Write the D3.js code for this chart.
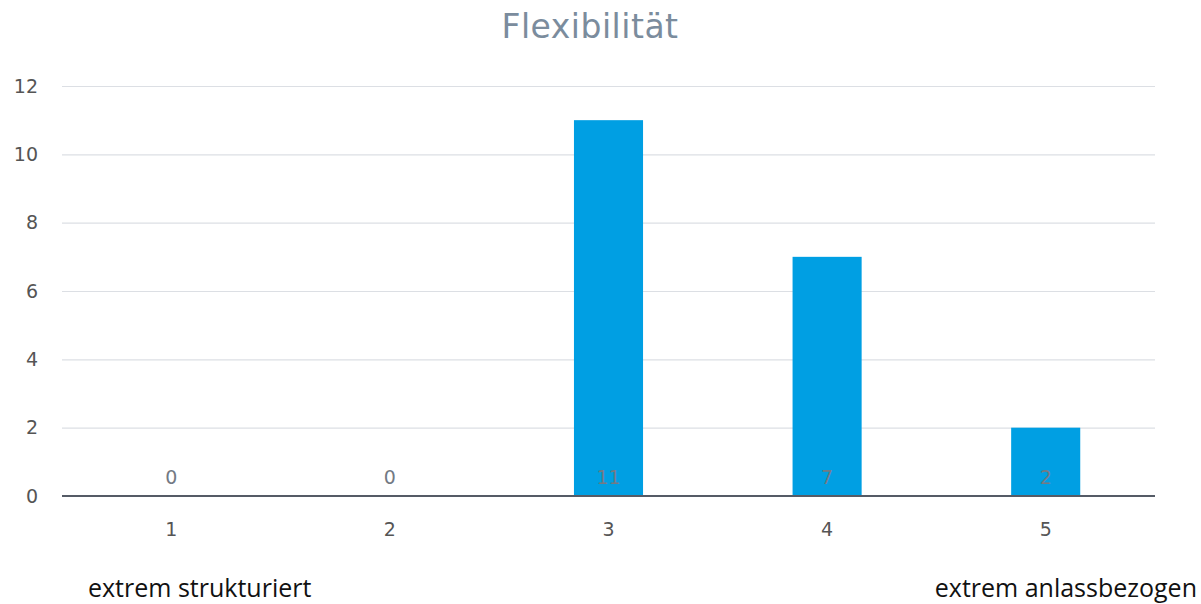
<!DOCTYPE html>
<html>
<head>
<meta charset="utf-8">
<script src="https://cdn.jsdelivr.net/npm/d3@7"></script>
<style>
  body { margin: 0; background: #fff; }
  svg { display: block; }
  .v { font-family: 'DejaVu Sans', Verdana, sans-serif; }
  .note { font-family: 'Open Sans', sans-serif; }
</style>
</head>
<body>
<svg width="1201" height="604"></svg>
<script>
let categories = ["1", "2", "3", "4", "5"];
let values = [0, 0, 11, 7, 2];
let yTicks = [0, 2, 4, 6, 8, 10, 12];
let title = "Flexibilität";
let leftNote = "extrem strukturiert";
let rightNote = "extrem anlassbezogen";

let plotLeft = 62, plotRight = 1155, plotTop = 86, plotBottom = 496;

let svg = d3.select('svg');

let x = d3.scaleBand().domain(categories).range([plotLeft, plotRight]).paddingInner(0.684).paddingOuter(0.342);
let y = d3.scaleLinear().domain([0, 12]).range([plotBottom, plotTop]);

// title
svg.append('text').attr('class', 'v').attr('x', 590).attr('y', 38).attr('text-anchor', 'middle')
  .attr('font-size', 33).attr('letter-spacing', 0.5)
  .attr('fill', '#7b8c9d').text(title);

// grid
let yAxis = svg.append('g').attr('transform', `translate(${plotLeft},0)`)
  .call(d3.axisLeft(y).tickValues(yTicks).tickSize(-(plotRight - plotLeft)).tickPadding(24));
yAxis.select('.domain').remove();
yAxis.attr('font-family', null);
yAxis.selectAll('.tick line').attr('stroke', '#dcdfe4').attr('stroke-width', 1.2);
yAxis.selectAll('.tick text').attr('class', 'v').attr('fill', '#555').attr('font-size', 19);

// bars
svg.selectAll('rect.bar').data(values).enter().append('rect')
  .attr('class', 'bar')
  .attr('x', (d, i) => x(categories[i]))
  .attr('y', d => y(d))
  .attr('width', x.bandwidth())
  .attr('height', d => plotBottom - y(d))
  .attr('fill', '#009fe3');

// baseline
svg.append('line').attr('x1', plotLeft).attr('x2', plotRight).attr('y1', plotBottom).attr('y2', plotBottom)
  .attr('stroke', '#555b66').attr('stroke-width', 2);

// value labels
svg.selectAll('text.val').data(values).enter().append('text')
  .attr('class', 'val v')
  .attr('x', (d, i) => x(categories[i]) + x.bandwidth() / 2)
  .attr('y', 484)
  .attr('text-anchor', 'middle')
  .attr('font-size', 19)
  .attr('fill', '#737a84')
  .text(d => d);

// x axis
let xAxis = svg.append('g').attr('transform', `translate(0,${plotBottom})`)
  .call(d3.axisBottom(x).tickSize(0).tickPadding(27));
xAxis.select('.domain').remove();
xAxis.attr('font-family', null);
xAxis.selectAll('.tick text').attr('class', 'v').attr('fill', '#555').attr('font-size', 19);

// notes under axis
svg.append('text').attr('class', 'note').attr('x', 88).attr('y', 597)
  .attr('font-size', 25)
  .attr('fill', '#111').text(leftNote);
svg.append('text').attr('class', 'note').attr('x', 1197).attr('y', 597).attr('text-anchor', 'end')
  .attr('font-size', 25)
  .attr('fill', '#111').text(rightNote);
</script>
</body>
</html>
